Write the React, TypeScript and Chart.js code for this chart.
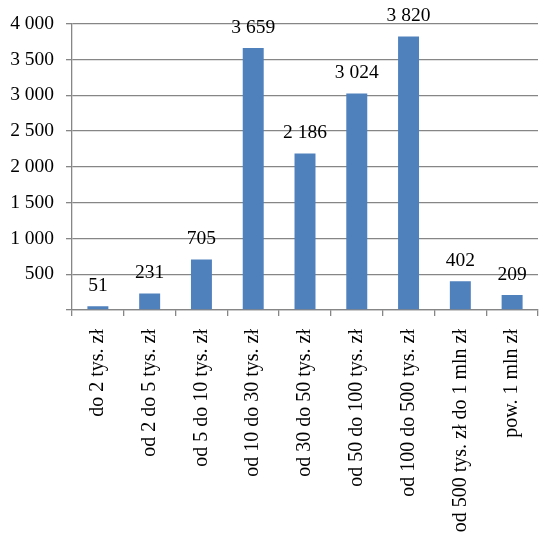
import React, { useEffect, useRef } from "react";
import { Chart, registerables } from "chart.js";

Chart.register(...registerables);

const categories = [
  "do 2 tys. zł",
  "od 2 do 5 tys. zł",
  "od 5 do 10 tys. zł",
  "od 10 do 30 tys. zł",
  "od 30 do 50 tys. zł",
  "od 50 do 100 tys. zł",
  "od 100 do 500 tys. zł",
  "od 500 tys. zł do 1 mln zł",
  "pow. 1 mln zł",
];
const values = [51, 231, 705, 3659, 2186, 3024, 3820, 402, 209];
const yMin = 0;
const yMax = 4000;
const yStep = 500;

const fmt = (v: number) => {
  if (v < 1000) return String(v);
  return `${Math.floor(v / 1000)} ${String(v % 1000).padStart(3, "0")}`;
};

const FONT = "'Liberation Serif', 'Times New Roman', serif";

const dataLabels = {
  id: "dataLabels",
  afterDatasetsDraw(chart: any) {
    const ctx = chart.ctx;
    const meta = chart.getDatasetMeta(0);
    ctx.save();
    ctx.font = `19.5px ${FONT}`;
    ctx.fillStyle = "#000";
    ctx.textAlign = "center";
    ctx.textBaseline = "alphabetic";
    meta.data.forEach((el: any, i: number) => {
      ctx.fillText(fmt(values[i]), el.x, el.y - 15.5);
    });
    ctx.restore();
  },
};

export default function App() {
  const ref = useRef<HTMLCanvasElement>(null);
  useEffect(() => {
    if (!ref.current) return;
    const chart = new Chart(ref.current, {
      type: "bar",
      data: {
        labels: categories,
        datasets: [
          {
            data: values,
            backgroundColor: "#4F81BD",
            barPercentage: 0.81,
            categoryPercentage: 0.5,
          },
        ],
      },
      options: {
        animation: false,
        responsive: true,
        maintainAspectRatio: false,
        layout: { padding: { top: 21.5, right: 17, left: 0, bottom: 0 } },
        plugins: {
          legend: { display: false },
          tooltip: { enabled: false },
        },
        scales: {
          x: {
            grid: {
              drawOnChartArea: false,
              drawTicks: true,
              tickLength: 6,
              color: "#868686",
              lineWidth: 1.3,
            },
            border: { color: "#868686", width: 1.3 },
            ticks: {
              minRotation: 90,
              maxRotation: 90,
              autoSkip: false,
              padding: 13,
              color: "#000",
              font: { family: FONT, size: 20 },
            },
            afterFit: (s: any) => {
              s.height = 542 - 310;
            },
          },
          y: {
            min: yMin,
            max: yMax,
            grid: {
              color: "#868686",
              lineWidth: 1.3,
              tickLength: 6,
              drawTicks: true,
            },
            border: { color: "#868686", width: 1.3 },
            ticks: {
              stepSize: yStep,
              padding: 12,
              color: "#000",
              font: { family: FONT, size: 19.5 },
              callback: (v: any) => (Number(v) === 0 ? "" : fmt(Number(v))),
            },
            afterFit: (s: any) => {
              s.width = 72;
            },
          },
        },
      },
      plugins: [dataLabels],
    });
    return () => chart.destroy();
  }, []);
  return (
    <div style={{ position: "fixed", left: 0, top: 0, width: 555, height: 542, background: "#fff" }}>
      <canvas ref={ref} />
    </div>
  );
}
